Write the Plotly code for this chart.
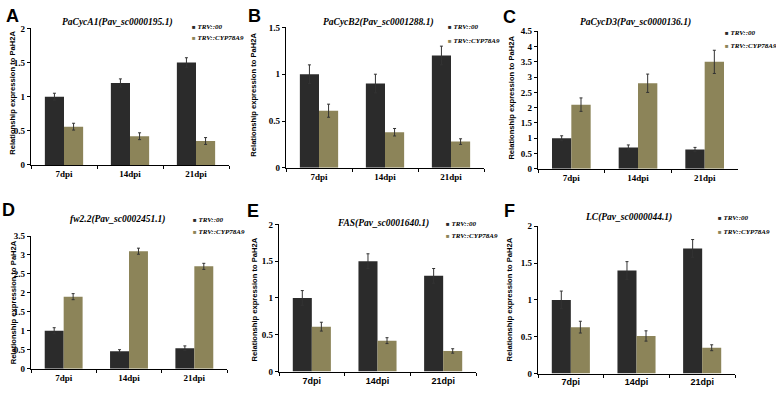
import plotly.graph_objects as go

W, H = 776, 398

categories = ["7dpi", "14dpi", "21dpi"]
series_names = ["TRV::00", "TRV::CYP78A9"]
panel_letters = ["A", "B", "C", "D", "E", "F"]
panel_titles = ["PaCycA1(Pav_sc0000195.1)", "PaCycB2(Pav_sc0001288.1)",
                "PaCycD3(Pav_sc0000136.1)", "fw2.2(Pav_sc0002451.1)",
                "FAS(Pav_sc0001640.1)", "LC(Pav_sc0000044.1)"]
y_title = "Relationship expression to PaH2A"

# values
trv00_A = [1.0, 1.2, 1.5]
trv00_A_err = [0.05, 0.06, 0.07]
cyp_A = [0.56, 0.42, 0.35]
cyp_A_err = [0.05, 0.05, 0.05]

trv00_B = [1.0, 0.9, 1.2]
trv00_B_err = [0.1, 0.1, 0.1]
cyp_B = [0.61, 0.38, 0.28]
cyp_B_err = [0.07, 0.04, 0.03]

trv00_C = [1.0, 0.7, 0.63]
trv00_C_err = [0.08, 0.08, 0.07]
cyp_C = [2.1, 2.8, 3.5]
cyp_C_err = [0.22, 0.3, 0.38]

trv00_D = [1.0, 0.46, 0.54]
trv00_D_err = [0.08, 0.04, 0.06]
cyp_D = [1.9, 3.1, 2.7]
cyp_D_err = [0.08, 0.08, 0.08]

trv00_E = [1.0, 1.5, 1.3]
trv00_E_err = [0.1, 0.1, 0.1]
cyp_E = [0.61, 0.42, 0.28]
cyp_E_err = [0.06, 0.04, 0.03]

trv00_F = [1.0, 1.4, 1.7]
trv00_F_err = [0.12, 0.12, 0.12]
cyp_F = [0.63, 0.51, 0.35]
cyp_F_err = [0.08, 0.07, 0.04]

y_max = [2, 1.5, 4.5, 3.5, 2, 2]

data = [
    (trv00_A, trv00_A_err, cyp_A, cyp_A_err),
    (trv00_B, trv00_B_err, cyp_B, cyp_B_err),
    (trv00_C, trv00_C_err, cyp_C, cyp_C_err),
    (trv00_D, trv00_D_err, cyp_D, cyp_D_err),
    (trv00_E, trv00_E_err, cyp_E, cyp_E_err),
    (trv00_F, trv00_F_err, cyp_F, cyp_F_err),
]

# layout geometry in pixels: x-left, x-right, y of zero, y of top tick
geom = [
    dict(xl=31, xr=229, y0=164, yt=24, title=(118, 18), leg=(190, 23, 34), letter=(12, 11), ytl=(13, 90)),
    dict(xl=286, xr=484, y0=167, yt=23, title=(378, 18), leg=(446, 23, 37), letter=(254, 11), ytl=(254, 92)),
    dict(xl=538, xr=738, y0=168, yt=27, title=(635, 18), leg=(723, 29, 42), letter=(509, 12), ytl=(512, 95)),
    dict(xl=31, xr=227, y0=373, yt=237, title=(118, 220), leg=(191, 221, 233), letter=(8, 210), ytl=(13, 305)),
    dict(xl=279, xr=476, y0=376, yt=225, title=(383, 224), leg=(444, 225, 237), letter=(253, 211), ytl=(254, 302)),
    dict(xl=538, xr=735, y0=378, yt=227, title=(628, 218), leg=(716, 219, 233), letter=(509, 211), ytl=(509, 302)),
]

DARK = "#2b2b2b"
TAN = "#8c8459"
SERIF = "Liberation Serif"
SANS = "Liberation Sans"

fig = go.Figure()
annotations = []

def px(x):
    return x / W

def py(y):
    return 1 - y / H

for i, (g, (d1, e1, d2, e2)) in enumerate(zip(geom, data)):
    n = i + 1
    xa = "x" if n == 1 else f"x{n}"
    ya = "y" if n == 1 else f"y{n}"
    for vals, errs, col, name, off in [(d1, e1, DARK, series_names[0], -0.29),
                                       (d2, e2, TAN, series_names[1], 0.0)]:
        fig.add_trace(go.Bar(
            x=categories, y=vals, name=name, marker_color=col,
            marker_line_width=0, width=0.29, offset=off,
            error_y=dict(type="data", array=errs, color="#333333", thickness=1, width=1.5),
            xaxis=xa, yaxis=ya, showlegend=False))
    ymx = y_max[i]
    xkey = "xaxis" if n == 1 else f"xaxis{n}"
    ykey = "yaxis" if n == 1 else f"yaxis{n}"
    xfont_family = SANS if i >= 4 else SERIF
    fig.update_layout(**{
        xkey: dict(domain=[px(g["xl"]), px(g["xr"])], anchor=ya, type="category",
                   range=[-0.5, 2.5], showline=True, linecolor="black", linewidth=1.3,
                   ticks="outside", ticklen=3, tickcolor="black", tickson="boundaries",
                   showgrid=False, zeroline=False,
                   tickfont=dict(family=xfont_family, size=9, color="black", weight="bold")),
        ykey: dict(domain=[py(g["y0"]), py(g["yt"])], anchor=xa, range=[0, ymx],
                   dtick=0.5, showline=True, linecolor="black", linewidth=1.3,
                   ticks="outside", ticklen=3, tickcolor="black", showgrid=False,
                   zeroline=False,
                   tickfont=dict(family=SERIF, size=9, color="black", weight="bold")),
    })
    tx, ty = g["title"]
    annotations.append(dict(x=px(tx), y=py(ty), xref="paper", yref="paper",
                            text=panel_titles[i], showarrow=False, xanchor="center", yanchor="middle",
                            font=dict(family=SERIF, size=9.5, color="black", weight="bold", style="italic")))
    lx, ly1, ly2 = g["leg"]
    for yy, col, name in [(ly1, DARK, series_names[0]), (ly2, TAN, series_names[1])]:
        annotations.append(dict(x=px(lx), y=py(yy), xref="paper", yref="paper",
                                text=f"<span style='color:{col};font-size:6px'>■</span> {name}", showarrow=False,
                                xanchor="left", yanchor="middle",
                                font=dict(family=SERIF, size=7, color="black", weight="bold", style="italic")))
    lex, ley = g["letter"]
    annotations.append(dict(x=px(lex), y=py(ley), xref="paper", yref="paper",
                            text=panel_letters[i], showarrow=False, xanchor="center", yanchor="middle",
                            font=dict(family=SANS, size=18, color="black", weight="bold")))
    yx, yy = g["ytl"]
    annotations.append(dict(x=px(yx), y=py(yy), xref="paper", yref="paper",
                            text=y_title, showarrow=False, textangle=-90,
                            xanchor="center", yanchor="middle",
                            font=dict(family=SANS, size=7.6, color="black", weight="bold")))

fig.update_layout(width=W, height=H, margin=dict(l=0, r=0, t=0, b=0),
                  paper_bgcolor="white", plot_bgcolor="white",
                  annotations=annotations, showlegend=False)

fig.write_html("out.html", config={"displayModeBar": False},
               post_script="document.body.style.margin='0';document.body.style.padding='0';")
